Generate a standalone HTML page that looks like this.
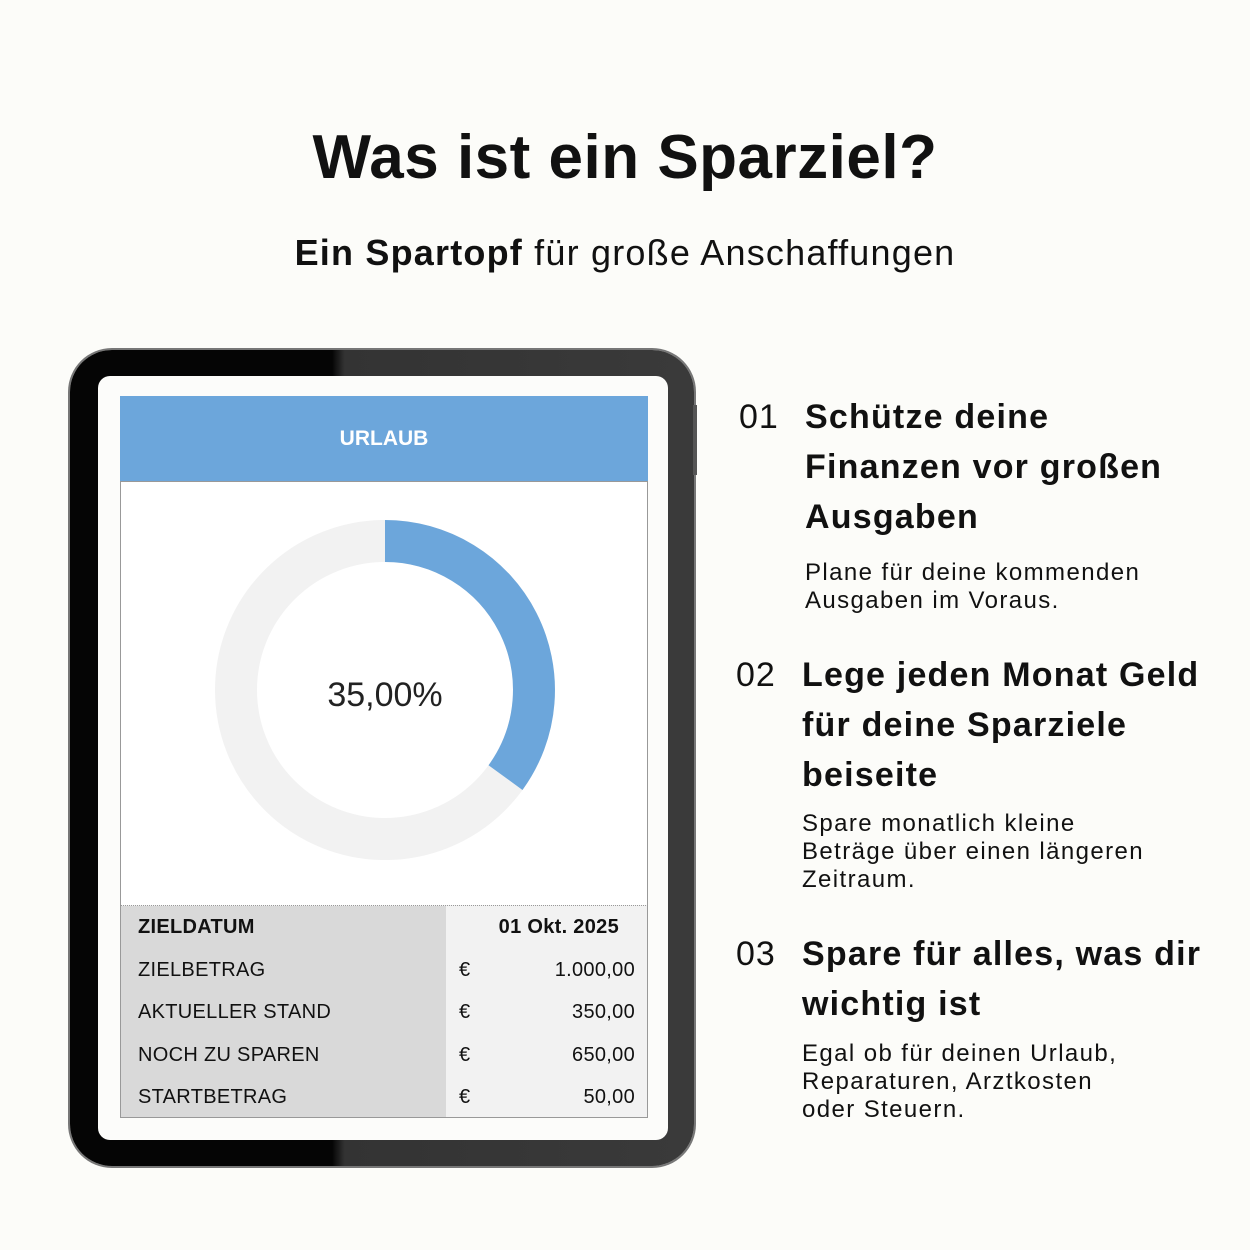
<!DOCTYPE html>
<html><head><meta charset="utf-8"><style>
body{margin:0;width:1250px;height:1250px;background:#fcfcf9;font-family:"Liberation Sans",sans-serif;color:#111;position:relative;overflow:hidden}
.a{position:absolute;white-space:nowrap}
.h{font-weight:bold;font-size:34px;line-height:50px;letter-spacing:1.2px}
.n{font-size:34px;line-height:50px;letter-spacing:1px}
.p{font-size:24px;line-height:28px;letter-spacing:1.4px}
.row{position:absolute;left:0;width:528px;height:42px;font-size:20px;line-height:42px;letter-spacing:0.3px}
.row .l{position:absolute;left:17px}
.row .e{position:absolute;left:338px}
.row .v{position:absolute;right:14px}
</style></head><body>
<div class="a" style="left:0;width:1250px;text-align:center;top:122px;font-size:62px;font-weight:bold;letter-spacing:0.5px">Was ist ein Sparziel?</div>
<div class="a" style="left:0;width:1250px;text-align:center;top:232px;font-size:36px;letter-spacing:1.2px"><b>Ein Spartopf</b> für große Anschaffungen</div>

<div class="a" style="left:70px;top:350px;width:624px;height:816px;border-radius:42px;background:linear-gradient(90deg,#050505 0%,#050505 42%,#333 44%,#3a3a3a 100%);box-shadow:0 0 0 2px #777"></div>
<div class="a" style="left:693px;top:405px;width:4px;height:70px;background:#555"></div>
<div class="a" style="left:98px;top:376px;width:570px;height:764px;border-radius:12px;background:#fcfcfa"></div>
<div class="a" style="left:120px;top:396px;width:528px;height:722px;background:#fff;border:1px solid #999;box-sizing:border-box"></div>
<div class="a" style="left:120px;top:396px;width:528px;height:86px;background:#6ca6db;border-bottom:1px solid #999;box-sizing:border-box;color:#fff;font-weight:bold;font-size:21px;text-align:center;line-height:86px">URLAUB</div>
<svg class="a" style="left:120px;top:482px" width="528" height="424">
<circle cx="265" cy="208" r="149" fill="none" stroke="#f2f2f2" stroke-width="42"/>
<path d="M265 59 A149 149 0 0 1 385.5 295.6" fill="none" stroke="#6ca6db" stroke-width="42"/>
<text x="265" y="224" text-anchor="middle" font-family="Liberation Sans" font-size="34" fill="#222">35,00%</text>
</svg>
<div class="a" style="left:120px;top:905px;width:528px;height:213px;border:1px solid #999;border-top:1px dotted #999;box-sizing:border-box;background:#f2f2f2">
<div class="a" style="left:0;top:0;width:325px;height:211px;background:#d9d9d9"></div>
<div class="row" style="top:0;font-weight:bold"><span class="l">ZIELDATUM</span><span class="v" style="right:30px">01 Okt. 2025</span></div>
<div class="row" style="top:43px"><span class="l">ZIELBETRAG</span><span class="e">€</span><span class="v">1.000,00</span></div>
<div class="row" style="top:85px"><span class="l">AKTUELLER STAND</span><span class="e">€</span><span class="v">350,00</span></div>
<div class="row" style="top:128px"><span class="l">NOCH ZU SPAREN</span><span class="e">€</span><span class="v">650,00</span></div>
<div class="row" style="top:170px"><span class="l">STARTBETRAG</span><span class="e">€</span><span class="v">50,00</span></div>
</div>

<div class="a n" style="left:739px;top:392px">01</div>
<div class="a h" style="left:805px;top:392px">Schütze deine<br>Finanzen vor großen<br>Ausgaben</div>
<div class="a p" style="left:805px;top:559px">Plane für deine kommenden<br>Ausgaben im Voraus.</div>
<div class="a n" style="left:736px;top:650px">02</div>
<div class="a h" style="left:802px;top:650px">Lege jeden Monat Geld<br>für deine Sparziele<br>beiseite</div>
<div class="a p" style="left:802px;top:810px">Spare monatlich kleine<br>Beträge über einen längeren<br>Zeitraum.</div>
<div class="a n" style="left:736px;top:929px">03</div>
<div class="a h" style="left:802px;top:929px">Spare für alles, was dir<br>wichtig ist</div>
<div class="a p" style="left:802px;top:1040px">Egal ob für deinen Urlaub,<br>Reparaturen, Arztkosten<br>oder Steuern.</div>
</body></html>
